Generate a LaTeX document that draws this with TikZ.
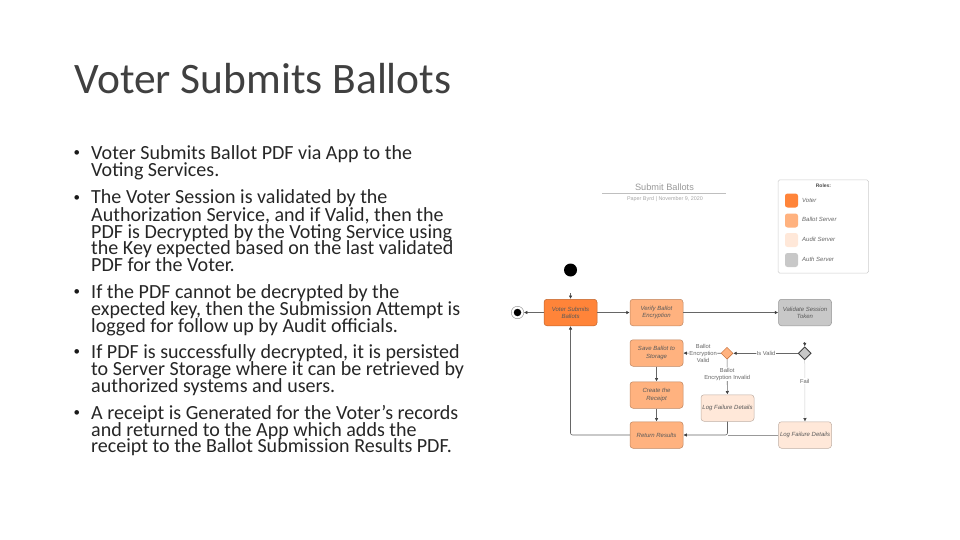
\documentclass[tikz,border=0pt]{standalone}
\usepackage{fontspec}
\setmainfont{Carlito}
\newfontfamily\lib{Liberation Sans}
\usetikzlibrary{arrows.meta,shapes.geometric}
\definecolor{voter}{HTML}{FF8439}
\definecolor{ballot}{HTML}{FFB27F}
\definecolor{audit}{HTML}{FFE8D9}
\definecolor{authc}{HTML}{C8C8C8}
\tikzset{
  titletext/.style={anchor=base west,inner sep=0pt,font=\fontsize{43.5}{44}\selectfont,text=black!75},
  bodyline/.style={anchor=base west,inner sep=0pt,font=\fontsize{20.05}{20}\selectfont,text=black!85},
  bulletmark/.style={anchor=base west,inner sep=0pt,font=\fontsize{13}{13}\selectfont,text=black!90},
  state/.style={draw=#1!75!black,fill=#1,rounded corners=3pt,minimum width=53pt,minimum height=26.5pt,inner sep=0pt,line width=.5pt,align=center,font=\lib\fontsize{6}{7.2}\selectfont\itshape,text=black!65},
  swatch/.style={fill=#1,rounded corners=2.5pt,minimum width=13pt,minimum height=14pt,inner sep=0pt},
  legendtext/.style={anchor=west,inner sep=0pt,font=\lib\fontsize{6}{7}\selectfont\itshape,text=black!60},
  conn/.style={draw=black!60,line width=.6pt,-{Latex[length=3.5pt,width=3.5pt,black!75]},rounded corners=2pt},
  faint/.style={draw=black!20,line width=.5pt,-{Latex[length=3.5pt,width=3.5pt,black!75]}},
  edgelabel/.style={fill=white,inner sep=.5pt,align=center,font=\lib\fontsize{5.8}{7}\selectfont,text=black!60},
  gate/.style={diamond,aspect=1,inner sep=0pt,minimum size=#1},
}
\begin{document}
\begin{tikzpicture}[x=1pt,y=-1pt]
\useasboundingbox (0,0) rectangle (960,540);
\node[titletext] (title) at (74,93.5) {Voter Submits Ballots};
% body
\node[bulletmark] (b1) at (73.5,157) {•};
\node[bodyline] (l01) at (91,160) {Voter Submits Ballot PDF via App to the};
\node[bodyline] (l02) at (91,177) {Voting Services.};
\node[bulletmark] (b2) at (73.5,201) {•};
\node[bodyline] (l03) at (91,204) {The Voter Session is validated by the};
\node[bodyline] (l04) at (91,221) {Authorization Service, and if Valid, then the};
\node[bodyline] (l05) at (91,238) {PDF is Decrypted by the Voting Service using};
\node[bodyline] (l06) at (91,254) {the Key expected based on the last validated};
\node[bodyline] (l07) at (91,271) {PDF for the Voter.};
\node[bulletmark] (b3) at (73.5,295) {•};
\node[bodyline] (l08) at (91,298) {If the PDF cannot be decrypted by the};
\node[bodyline] (l09) at (91,315) {expected key, then the Submission Attempt is};
\node[bodyline] (l10) at (91,332) {logged for follow up by Audit officials.};
\node[bulletmark] (b4) at (73.5,355) {•};
\node[bodyline] (l11) at (91,358) {If PDF is successfully decrypted, it is persisted};
\node[bodyline] (l12) at (91,375) {to Server Storage where it can be retrieved by};
\node[bodyline] (l13) at (91,392) {authorized systems and users.};
\node[bulletmark] (b5) at (73.5,416) {•};
\node[bodyline] (l14) at (91,419) {A receipt is Generated for the Voter’s records};
\node[bodyline] (l15) at (91,436) {and returned to the App which adds the};
\node[bodyline] (l16) at (91,452) {receipt to the Ballot Submission Results PDF.};
% diagram heading
\node[inner sep=0pt,font=\lib\fontsize{9.2}{10}\selectfont,text=black!40] (dtitle) at (664.5,187.5) {Submit Ballots};
\coordinate (ruleL) at (602,193.5); \coordinate (ruleR) at (726,193.5);
\draw[black!25,line width=.6pt] (ruleL) -- (ruleR);
\node[inner sep=0pt,font=\lib\fontsize{5.4}{6}\selectfont,text=black!35] (dsub) at (665,199) {Paper Byrd | November 9, 2020};
% legend
\node[draw=black!20,fill=white,rounded corners=1.5pt,minimum width=90.5pt,minimum height=93pt,inner sep=0pt,line width=.5pt] (legend) at (823.3,226.5) {};
\node[inner sep=0pt,font=\lib\bfseries\fontsize{5}{6}\selectfont,text=black!70] (roles) at (823.5,186) {Roles:};
\node[swatch=voter] (s1) at (791.5,200.5) {};
\node[swatch=ballot] (s2) at (791.5,220.5) {};
\node[swatch=audit] (s3) at (791.5,240) {};
\node[swatch=authc] (s4) at (791.5,260) {};
\node[legendtext] (t1) at (802,200) {Voter};
\node[legendtext] (t2) at (802,219.5) {Ballot Server};
\node[legendtext] (t3) at (802,239) {Audit Server};
\node[legendtext] (t4) at (802,259) {Auth Server};
% states
\node[state=voter] (voter) at (570.5,312.5) {Voter Submits\\Ballots};
\node[state=ballot] (verify) at (656.5,312.5) {Verify Ballot\\Encryption};
\node[state=authc] (validate) at (805,312.5) {Validate Session\\Token};
\node[state=ballot] (save) at (656.5,353) {Save Ballot to\\Storage};
\node[state=ballot] (receipt) at (656.5,395) {Create the\\Receipt};
\node[state=ballot] (return) at (656.5,435) {Return Results};
\node[state=audit] (logA) at (727.5,408) {Log Failure Details};
\node[state=audit] (logB) at (805,435) {Log Failure Details};
% gates
\node[gate=12pt,draw=voter!75!black,fill=ballot,line width=.4pt] (gateO) at (727,353.3) {};
\node[gate=13pt,draw=black!75,fill=authc,line width=.9pt] (gateG) at (804.7,353.3) {};
% start, end
\node[circle,fill=black,minimum size=13pt,inner sep=0pt] (init) at (570.5,270) {};
\node[circle,draw=black!45,fill=white,minimum size=12.5pt,inner sep=0pt,line width=.4pt] (finalO) at (517.5,312.5) {};
\node[circle,fill=black,minimum size=7.5pt,inner sep=0pt] (finalI) at (517.5,312.5) {};
% connectors
\coordinate (initGap) at (570.5,293);
\draw[conn] (initGap) -- (voter);
\draw[conn] (voter) -- (finalO);
\draw[conn] (voter) -- (verify);
\draw[conn] (verify) -- (validate);
\coordinate (gateGap) at (804.7,342);
\draw[conn] (gateGap) -- (gateG);
\draw[conn] (gateG) -- node[edgelabel,pos=.49]{Is Valid} (gateO);
\draw[conn] (gateO) -- node[edgelabel,pos=.47]{Ballot\\Encryption\\Valid} (save);
\draw[conn] (gateO) -- node[edgelabel,pos=.42]{Ballot\\Encryption Invalid} (logA);
\draw[faint] (gateG) -- node[edgelabel,pos=.34]{Fail} (logB);
\draw[conn] (save) -- (receipt);
\draw[conn] (receipt) -- (return);
\draw[conn] (logA.south) |- (return.east);
\draw[draw=black!40,line width=.5pt] (logB.west) -- (727.5,435);
\draw[conn] (return.west) -| (voter.south);
\end{tikzpicture}
\end{document}
